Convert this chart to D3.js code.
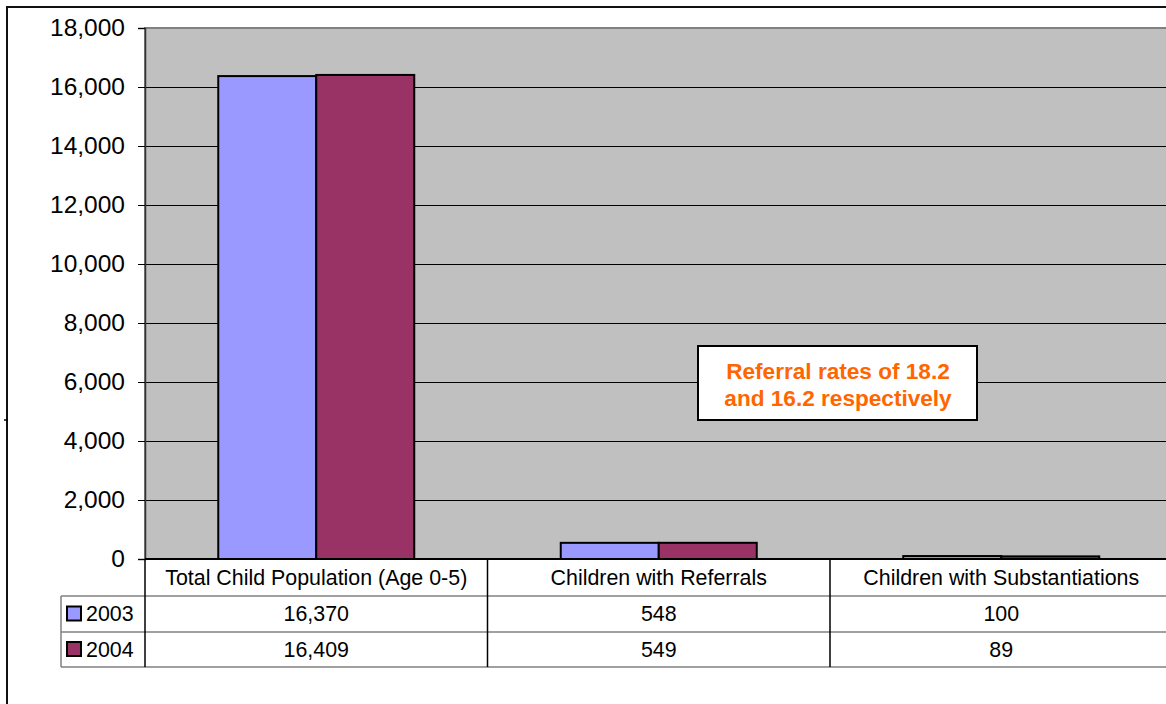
<!DOCTYPE html>
<html>
<head>
<meta charset="utf-8">
<script src="https://cdn.jsdelivr.net/npm/d3@7"></script>
<style>
  html, body { margin: 0; padding: 0; background: #fff; overflow: hidden; }
  svg { display: block; font-family: "Liberation Sans", Arial, sans-serif; }
</style>
</head>
<body>
<svg id="chart" width="1166" height="704"></svg>
<script>
// Chart data
const categories = ["Total Child Population (Age 0-5)", "Children with Referrals", "Children with Substantiations"];
const seriesNames = ["2003", "2004"];
const values2003 = [16370, 548, 100];
const values2004 = [16409, 549, 89];
const yTicks = [0, 2000, 4000, 6000, 8000, 10000, 12000, 14000, 16000, 18000];
const seriesColors = ["#9999FF", "#993366"];
const noteLines = ["Referral rates of 18.2", "and 16.2 respectively"];

const seriesValues = [values2003, values2004];

const svg = d3.select("#chart");

// Plot area geometry
const plot = { left: 145, top: 28, bottom: 559, bandW: 342.5 };
plot.right = plot.left + plot.bandW * categories.length;

const x = d3.scaleBand().domain(categories).range([plot.left, plot.right]).padding(0);
const y = d3.scaleLinear().domain([0, 18000]).range([plot.bottom, plot.top]);
const groupW = 196;
const xs = d3.scaleBand().domain(seriesNames).range([0, groupW]).padding(0);

// Outer chart frame (extends past the page edge on the right/bottom)
svg.append("rect")
  .attr("x", 7).attr("y", 7).attr("width", 1200).attr("height", 760)
  .attr("fill", "#fff").attr("stroke", "#111").attr("stroke-width", 2);
svg.append("line").attr("x1", 4).attr("x2", 8).attr("y1", 420).attr("y2", 420)
  .attr("stroke", "#000").attr("stroke-width", 1.5);

// Plot background
svg.append("rect")
  .attr("x", plot.left).attr("y", plot.top)
  .attr("width", plot.right - plot.left).attr("height", plot.bottom - plot.top)
  .attr("fill", "#C0C0C0").attr("stroke", "#808080").attr("stroke-width", 2);

// Gridlines
svg.append("g")
  .attr("transform", `translate(${plot.left},0)`)
  .call(d3.axisLeft(y).tickValues(yTicks.filter(t => t > 0 && t < 18000)).tickSize(-(plot.right - plot.left)).tickFormat(""))
  .call(g => g.select(".domain").remove())
  .call(g => g.selectAll("line").attr("stroke", "#000").attr("stroke-width", 1));

// Bars
const groups = svg.append("g").selectAll("g")
  .data(categories)
  .join("g")
  .attr("transform", d => `translate(${x(d) + (x.bandwidth() - groupW) / 2},0)`);

groups.selectAll("rect")
  .data((c, i) => seriesNames.map((s, j) => ({ s, j, v: seriesValues[j][i] })))
  .join("rect")
  .attr("x", d => xs(d.s))
  .attr("y", d => y(d.v))
  .attr("width", xs.bandwidth())
  .attr("height", d => y(0) - y(d.v))
  .attr("fill", d => seriesColors[d.j])
  .attr("stroke", "#000").attr("stroke-width", 2);

// Y axis
const yAxis = svg.append("g")
  .attr("transform", `translate(${plot.left},0)`)
  .call(d3.axisLeft(y).tickValues(yTicks).tickSize(7).tickPadding(13).tickFormat(d3.format(",")));
yAxis.select(".domain").attr("stroke", "#333").attr("stroke-width", 1.5);
yAxis.selectAll(".tick line").attr("stroke", "#000");
yAxis.selectAll("text").attr("font-size", 24.5).attr("fill", "#000")
  .attr("font-family", "'Liberation Sans', Arial, sans-serif");

// X axis line
svg.append("line").attr("x1", plot.left).attr("x2", plot.right)
  .attr("y1", plot.bottom).attr("y2", plot.bottom).attr("stroke", "#000").attr("stroke-width", 2);

// Data table beneath the plot
const rowY = [559, 596, 632, 667];
const tableLeft = 61;
const tbl = svg.append("g");
[1, 2, 3].forEach(r => {
  tbl.append("line").attr("x1", tableLeft).attr("x2", plot.right)
    .attr("y1", rowY[r]).attr("y2", rowY[r]).attr("stroke", "#808080").attr("stroke-width", 1.5);
});
tbl.append("line").attr("x1", tableLeft).attr("x2", tableLeft)
  .attr("y1", rowY[1]).attr("y2", rowY[3]).attr("stroke", "#808080").attr("stroke-width", 1.5);
categories.concat(["_end"]).forEach((c, i) => {
  const xx = plot.left + plot.bandW * i;
  tbl.append("line").attr("x1", xx).attr("x2", xx)
    .attr("y1", rowY[0]).attr("y2", rowY[3]).attr("stroke", "#000").attr("stroke-width", 1.5);
});

const cellFont = 21.4;
tbl.selectAll("text.cat")
  .data(categories)
  .join("text")
  .attr("class", "cat")
  .attr("x", d => x(d) + x.bandwidth() / 2)
  .attr("y", (rowY[0] + rowY[1]) / 2)
  .attr("dy", "0.35em")
  .attr("text-anchor", "middle")
  .attr("font-size", cellFont)
  .text(d => d);

seriesNames.forEach((s, j) => {
  const cy = (rowY[j + 1] + rowY[j + 2]) / 2;
  tbl.append("rect")
    .attr("x", 67).attr("y", cy - 7.5).attr("width", 14).attr("height", 14)
    .attr("fill", seriesColors[j]).attr("stroke", "#000").attr("stroke-width", 2);
  tbl.append("text")
    .attr("x", 86).attr("y", cy).attr("dy", "0.35em")
    .attr("font-size", cellFont).text(s);
  tbl.selectAll(null)
    .data(categories)
    .join("text")
    .attr("x", d => x(d) + x.bandwidth() / 2)
    .attr("y", cy).attr("dy", "0.35em")
    .attr("text-anchor", "middle")
    .attr("font-size", cellFont)
    .text((d, i) => d3.format(",")(seriesValues[j][i]));
});

// Annotation box
const note = svg.append("g");
note.append("rect")
  .attr("x", 698).attr("y", 346).attr("width", 279).attr("height", 74)
  .attr("fill", "#fff").attr("stroke", "#000").attr("stroke-width", 2);
note.selectAll("text")
  .data(noteLines)
  .join("text")
  .attr("x", 838)
  .attr("y", (d, i) => 371 + i * 27)
  .attr("dy", "0.35em")
  .attr("text-anchor", "middle")
  .attr("font-size", 22.6)
  .attr("font-weight", "bold")
  .attr("fill", "#FF6600")
  .text(d => d);
</script>
</body>
</html>
